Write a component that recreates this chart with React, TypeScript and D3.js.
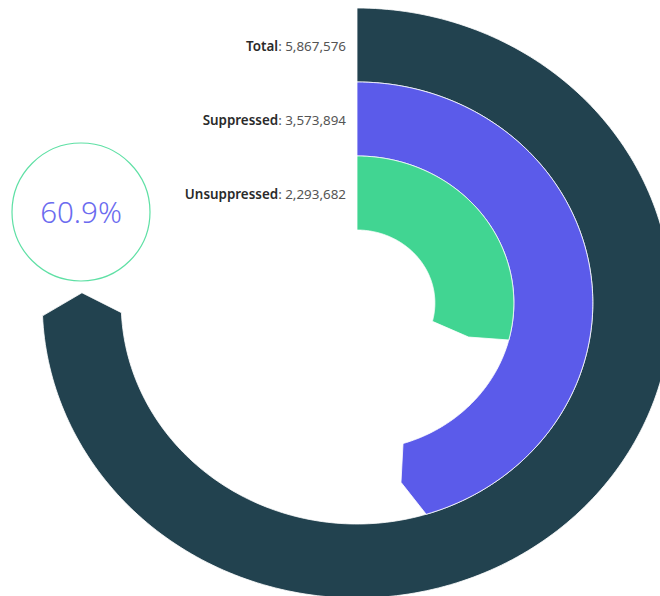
import React from "react";
import * as d3 from "d3";

const categories = ["Total", "Suppressed", "Unsuppressed"];
const values = [5867576, 3573894, 2293682];
const colors = ["#22424F", "#5B5BEA", "#41D592"];

const W = 660;
const H = 596;
const cx = 357;
const cy = 303;
const xStretch = 1.067;
const maxAngleDeg = 267.5;

export default function App() {
  const total = values[0];
  const angle = d3.scaleLinear().domain([0, total]).range([0, (maxAngleDeg * Math.PI) / 180]);
  const rOuter = d3.scaleLinear().domain([0, 1]).range([295, 221]);
  const band = 74;

  const line = d3
    .lineRadial<[number, number]>()
    .angle((d) => d[0])
    .radius((d) => d[1])
    .curve(d3.curveLinearClosed);

  const rings = categories.map((c, i) => {
    const ro = rOuter(i);
    const ri = ro - band;
    const rm = (ro + ri) / 2;
    const end = angle(values[i]);
    const tip = ((2.5 + 0.0088 * rm) * Math.PI) / 180;
    const n = 240;
    const pts: [number, number][] = [];
    for (let k = 0; k <= n; k++) pts.push([(end * k) / n, ro]);
    pts.push([end + tip, rm]);
    for (let k = n; k >= 0; k--) pts.push([(end * k) / n, ri]);
    return { c, i, d: line(pts) as string, rm, color: colors[i] };
  });

  const fmt = d3.format(",");
  const pct = d3.format(".1f")((values[1] / values[0]) * 100) + "%";

  return (
    <svg
      width={W}
      height={H}
      style={{ position: "absolute", left: 0, top: 0, background: "#fff" }}
      fontFamily="'Noto Sans', sans-serif"
    >
      <g transform={`translate(${cx},${cy}) scale(${xStretch},1)`}>
        {rings.map((r) => (
          <path
            key={r.c}
            d={r.d}
            fill={r.color}
            stroke="#ffffff"
            strokeWidth={1}
            strokeOpacity={0.8}
            vectorEffect="non-scaling-stroke"
          />
        ))}
      </g>
      {rings.map((r) => (
        <text
          key={"t" + r.c}
          x={346}
          y={cy - r.rm + 1}
          dy="0.35em"
          textAnchor="end"
          fontSize={13.4}
          fill="#333"
        >
          <tspan fontWeight={600} fill="#2a2a2a">{r.c}</tspan>
          <tspan fill="#555">: {fmt(values[r.i])}</tspan>
        </text>
      ))}
      <circle cx={81} cy={212} r={69} fill="#fff" stroke="#5FE0A5" strokeWidth={1.2} />
      <text
        x={81}
        y={212}
        dy="0.36em"
        textAnchor="middle"
        fontSize={29.5}
        fontWeight={300}
        fill="#6B6BEF"
      >
        {pct}
      </text>
    </svg>
  );
}
